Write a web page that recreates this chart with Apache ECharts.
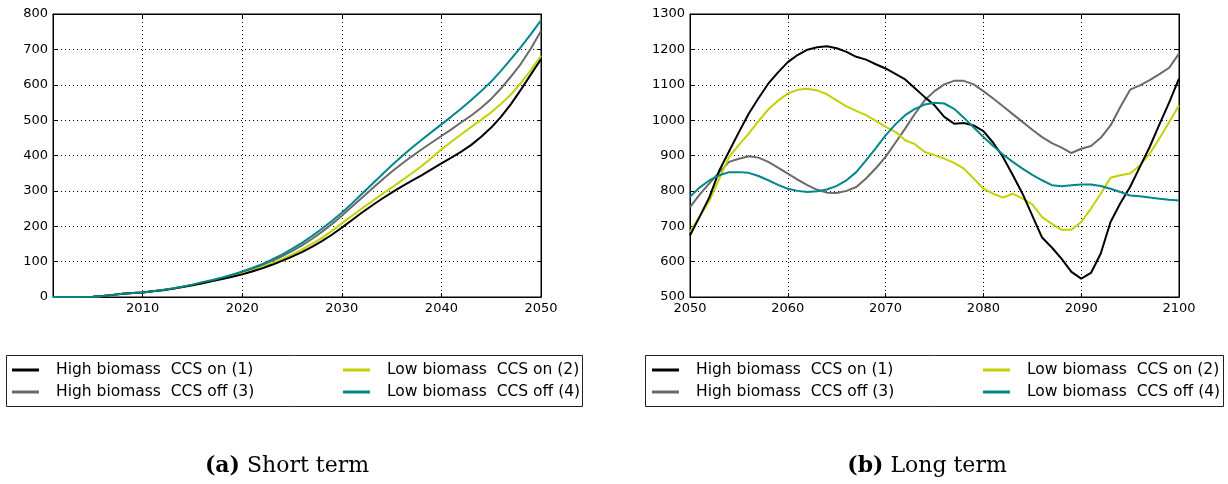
<!DOCTYPE html>
<html>
<head>
<meta charset="utf-8">
<script src="https://cdn.jsdelivr.net/npm/echarts@6/dist/echarts.min.js"></script>
<style>html,body{margin:0;padding:0;background:#fff;}#c{width:1228px;height:484px;}</style>
</head>
<body>
<div id="c"></div>
<script>
// ---- data ----
const seriesNames = ['High biomass  CCS on (1)', 'Low biomass  CCS on (2)', 'High biomass  CCS off (3)', 'Low biomass  CCS off (4)'];
const seriesColors = ['#000000', '#c3d100', '#6a6a6a', '#00868b'];

const shortYears = [2001,2002,2003,2004,2005,2006,2007,2008,2009,2010,2011,2012,2013,2014,2015,2016,2017,2018,2019,2020,2021,2022,2023,2024,2025,2026,2027,2028,2029,2030,2031,2032,2033,2034,2035,2036,2037,2038,2039,2040,2041,2042,2043,2044,2045,2046,2047,2048,2049,2050];
const shortHighOn  = [0,0,0,0,1,3,6,9,11,13,16,19,23,28,33,39,45,51,57,64,72,81,91,102,114,127,142,158,176,196,217,238,258,277,295,312,328,344,361,378,394,411,430,453,479,510,546,587,630,672];
const shortLowOn   = [0,0,0,0,1,3,6,9,11,13,16,19,23,28,33,39,45,52,59,66,74,84,95,107,120,134,150,167,187,208,229,250,270,290,309,329,349,370,393,417,439,460,481,501,522,546,573,606,642,682];
const shortHighOff = [0,0,0,0,1,3,6,9,11,13,16,20,24,29,34,41,47,54,62,70,79,90,102,115,130,146,164,184,206,230,255,280,305,330,354,376,397,417,436,455,474,494,513,535,560,590,624,660,703,752];
const shortLowOff  = [0,0,0,0,1,3,6,9,11,13,16,20,24,29,35,42,48,55,63,72,82,93,106,120,136,153,172,193,215,238,264,291,318,345,372,397,421,444,466,488,510,533,557,582,609,640,673,707,744,782];

const longYears = [2050,2051,2052,2053,2054,2055,2056,2057,2058,2059,2060,2061,2062,2063,2064,2065,2066,2067,2068,2069,2070,2071,2072,2073,2074,2075,2076,2077,2078,2079,2080,2081,2082,2083,2084,2085,2086,2087,2088,2089,2090,2091,2092,2093,2094,2095,2096,2097,2098,2099,2100];
const longHighOn  = [674,728,783,858,912,966,1018,1062,1103,1135,1164,1184,1199,1206,1209,1203,1193,1179,1171,1158,1146,1131,1115,1090,1065,1042,1009,990,992,985,969,936,896,845,792,730,668,640,608,571,552,568,623,712,765,811,868,924,988,1050,1117];
const longLowOn   = [684,728,773,835,896,930,962,997,1030,1055,1075,1086,1089,1084,1073,1056,1039,1026,1014,998,981,967,943,932,910,901,891,879,863,835,806,792,781,792,778,762,726,707,690,690,712,750,792,837,844,849,872,905,948,995,1042];
const longHighOff = [754,790,822,853,882,891,898,894,882,866,849,832,816,803,795,794,800,811,835,864,896,936,976,1018,1056,1082,1101,1111,1111,1101,1082,1061,1039,1017,995,973,952,935,922,907,919,927,950,985,1037,1086,1098,1113,1130,1148,1188];
const longLowOff  = [783,810,830,844,853,853,851,842,830,817,806,800,797,799,804,814,830,853,886,921,957,988,1014,1032,1044,1049,1047,1032,1007,980,952,927,903,882,863,845,830,816,813,816,818,818,814,806,797,787,785,781,778,775,773];

const captions = ['Short term', 'Long term'];
const captionTags = ['(a)', '(b)'];

// ---- build ----
const shortSets = [shortHighOn, shortLowOn, shortHighOff, shortLowOff];
const longSets = [longHighOn, longLowOn, longHighOff, longLowOff];
function pairs(xs, ys) { return xs.map((x, i) => [x, ys[i]]); }
const plain = v => String(Math.round(v));

const axisFont = { fontFamily: 'DejaVu Sans', fontSize: 13, color: '#000' };
function xAx(gi, min, max, pos, show) {
  return {
    type: 'value', gridIndex: gi, min: min, max: max, position: pos,
    minInterval: 10, maxInterval: 10,
    axisLine: { show: true, onZero: false, lineStyle: { color: '#000', width: 1 } },
    axisTick: { show: true, inside: true, length: 4, lineStyle: { color: '#000' } },
    axisLabel: Object.assign({ show: show, margin: 5, showMinLabel: gi === 1, formatter: plain }, axisFont),
    splitLine: { show: show, lineStyle: { color: '#000', type: [1, 3], width: 1 } }
  };
}
function yAx(gi, min, max, pos, show) {
  return {
    type: 'value', gridIndex: gi, min: min, max: max, interval: 100, position: pos,
    axisLine: { show: true, onZero: false, lineStyle: { color: '#000', width: 1 } },
    axisTick: { show: true, inside: true, length: 4, lineStyle: { color: '#000' } },
    axisLabel: Object.assign({ show: show, margin: 5, formatter: plain }, axisFont),
    splitLine: { show: show, lineStyle: { color: '#000', type: [1, 3], width: 1 } }
  };
}

const series = [];
[0, 1].forEach(gi => {
  const sets = gi === 0 ? shortSets : longSets;
  const xs = gi === 0 ? shortYears : longYears;
  sets.forEach((ys, k) => {
    series.push({
      name: seriesNames[k], type: 'line', xAxisIndex: gi * 2, yAxisIndex: gi * 2,
      data: pairs(xs, ys), symbol: 'none', smooth: false,
      lineStyle: { color: seriesColors[k], width: 2 }, itemStyle: { color: seriesColors[k] },
      z: [4, 3, 2, 5][k]
    });
  });
});

const legendPos = [[12, 362], [343, 362], [12, 384], [343, 384]];
const legends = [];
[0, 640].forEach(off => {
  seriesNames.forEach((n, k) => {
    legends.push({
      data: [n], left: legendPos[k][0] + off, top: legendPos[k][1], padding: 0,
      icon: 'rect', itemWidth: 27, itemHeight: 3, selectedMode: false,
      textStyle: { fontFamily: 'DejaVu Sans', fontSize: 15.5, color: '#000', padding: [0, 0, 0, 12] }
    });
  });
});

const capStyle = (i) => ({
  text: '{b|' + captionTags[i] + '} ' + captions[i], align: 'center', verticalAlign: 'middle',
  fontFamily: 'DejaVu Serif', fontSize: 22, fill: '#000',
  rich: { b: { fontFamily: 'DejaVu Serif', fontWeight: 'bold', fontSize: 22 } }
});

const option = {
  backgroundColor: '#fff',
  animation: false,
  grid: [
    { left: 53, right: 687, top: 14, bottom: 187, show: true, borderColor: '#000', borderWidth: 1, backgroundColor: 'transparent' },
    { left: 690, right: 49, top: 14, bottom: 187, show: true, borderColor: '#000', borderWidth: 1, backgroundColor: 'transparent' }
  ],
  xAxis: [xAx(0, 2001, 2050, 'bottom', true), xAx(0, 2001, 2050, 'top', false), xAx(1, 2050, 2100, 'bottom', true), xAx(1, 2050, 2100, 'top', false)],
  yAxis: [yAx(0, 0, 800, 'left', true), yAx(0, 0, 800, 'right', false), yAx(1, 500, 1300, 'left', true), yAx(1, 500, 1300, 'right', false)],
  legend: legends,
  series: series,
  graphic: [
    { type: 'rect', shape: { x: 6.5, y: 355.5, width: 576, height: 51 }, style: { fill: 'none', stroke: '#222', lineWidth: 1 }, silent: true },
    { type: 'rect', shape: { x: 645.5, y: 355.5, width: 578, height: 51 }, style: { fill: 'none', stroke: '#222', lineWidth: 1 }, silent: true },
    { type: 'text', x: 287, y: 466, style: capStyle(0) },
    { type: 'text', x: 927, y: 466, style: capStyle(1) }
  ]
};

const chart = echarts.init(document.getElementById('c'), null, { renderer: 'canvas' });
chart.setOption(option);
</script>
</body>
</html>
